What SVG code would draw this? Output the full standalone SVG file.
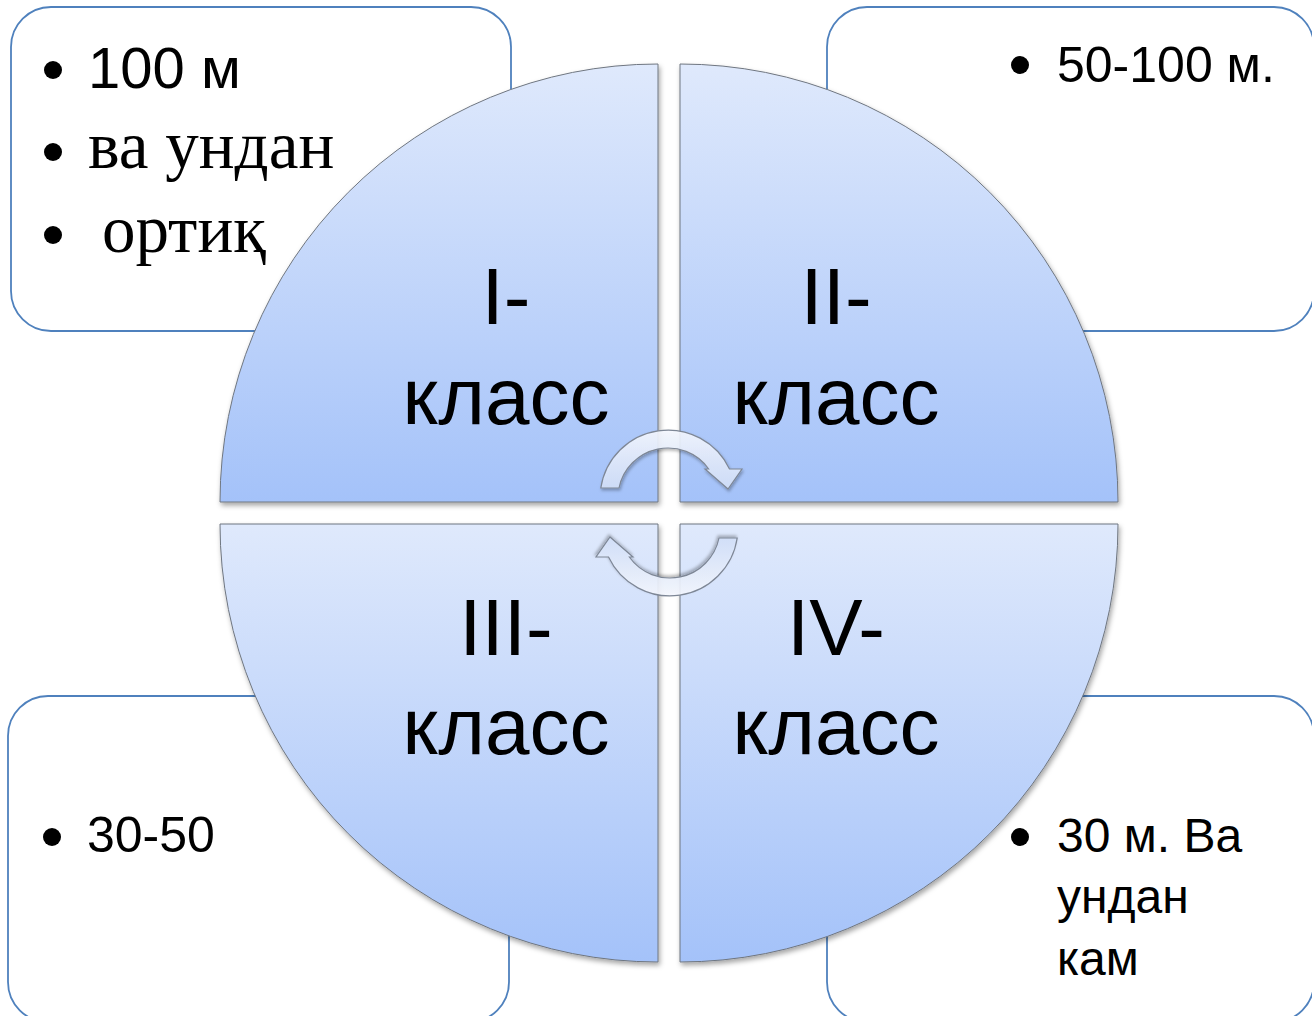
<svg xmlns="http://www.w3.org/2000/svg" width="1312" height="1016" viewBox="0 0 1312 1016">
  <defs>
    <linearGradient id="secGrad" x1="0" y1="0" x2="0" y2="1">
      <stop offset="0" stop-color="#dfe9fc"/>
      <stop offset="1" stop-color="#a4c2f9"/>
    </linearGradient>
    <linearGradient id="arrGrad" x1="0" y1="0" x2="0" y2="1">
      <stop offset="0" stop-color="#f5f8ff"/>
      <stop offset="1" stop-color="#d2e0fa"/>
    </linearGradient>
    <filter id="shadow" x="-10%" y="-10%" width="120%" height="120%">
      <feDropShadow dx="1.5" dy="3" stdDeviation="2.5" flood-color="#000" flood-opacity="0.35"/>
    </filter>
    <filter id="ashadow" x="-20%" y="-20%" width="140%" height="140%">
      <feDropShadow dx="1" dy="2" stdDeviation="1.5" flood-color="#000" flood-opacity="0.3"/>
    </filter>
  </defs>
  <style>
    .box { fill: #ffffff; stroke: #4f81bd; stroke-width: 1.8; }
    .sector { fill: url(#secGrad); stroke: #6f7680; stroke-width: 1; filter: url(#shadow); }
    .arrow { fill: url(#arrGrad); fill-opacity: 0.9; stroke: #7e8796; stroke-width: 1.2; filter: url(#ashadow); }
    .label { font-family: "Liberation Sans", Arial, sans-serif; font-size: 80px; fill: #000; text-anchor: middle; }
    .sans { font-family: "Liberation Sans", Arial, sans-serif; fill: #000; }
    .serif { font-family: "Liberation Serif", "DejaVu Serif", serif; fill: #000; }
    .bullet { fill: #000; }
  </style>
  <rect width="1312" height="1016" fill="#ffffff"/>

  <!-- text boxes -->
  <g id="box-tl">
    <rect class="box" x="11" y="7" width="500" height="324" rx="40" ry="40"/>
    <circle class="bullet" cx="53" cy="70" r="9"/>
    <text class="sans" x="88" y="88" font-size="58">100 м</text>
    <circle class="bullet" cx="53" cy="152" r="9"/>
    <text class="serif" x="88" y="168" font-size="67">ва ундан</text>
    <circle class="bullet" cx="53" cy="235" r="9"/>
    <text class="serif" x="102" y="252" font-size="67">ортиқ</text>
  </g>
  <g id="box-tr">
    <rect class="box" x="827" y="7" width="487" height="324" rx="40" ry="40"/>
    <circle class="bullet" cx="1020" cy="65" r="9"/>
    <text class="sans" x="1057" y="82" font-size="50">50-100 м.</text>
  </g>
  <g id="box-bl">
    <rect class="box" x="8" y="696" width="501" height="326" rx="40" ry="40"/>
    <circle class="bullet" cx="52" cy="837" r="9"/>
    <text class="sans" x="87" y="852" font-size="50">30-50</text>
  </g>
  <g id="box-br">
    <rect class="box" x="827" y="696" width="487" height="326" rx="40" ry="40"/>
    <circle class="bullet" cx="1020" cy="837" r="9"/>
    <text class="sans" x="1057" y="852" font-size="48">30 м. Ва</text>
    <text class="sans" x="1057" y="913" font-size="48">ундан</text>
    <text class="sans" x="1057" y="975" font-size="48">кам</text>
  </g>

  <!-- sectors -->
  <g id="sector-1">
    <path class="sector" d="M658,502 L220,502 A438,438 0 0 1 658,64 Z"/>
    <text class="label" x="506" y="324">I-</text>
    <text class="label" x="506" y="424">класс</text>
  </g>
  <g id="sector-2">
    <path class="sector" d="M680,502 L680,64 A438,438 0 0 1 1118,502 Z"/>
    <text class="label" x="836" y="324">II-</text>
    <text class="label" x="836" y="424">класс</text>
  </g>
  <g id="sector-3">
    <path class="sector" d="M658,524 L658,962 A438,438 0 0 1 220,524 Z"/>
    <text class="label" x="506" y="655">III-</text>
    <text class="label" x="506" y="754">класс</text>
  </g>
  <g id="sector-4">
    <path class="sector" d="M680,524 L1118,524 A438,438 0 0 1 680,962 Z"/>
    <text class="label" x="836" y="655">IV-</text>
    <text class="label" x="836" y="754">класс</text>
  </g>

  <!-- connectors: circular arrows -->
  <g id="connectors">
    <path class="arrow" d="M600.8,488 A68,68 0 0 1 729.5,469 L742,469 L728,489 L705,469 L708.7,469 A50,50 0 0 0 619,488 Z"/>
    <path class="arrow" transform="rotate(180 669 513)" d="M600.8,488 A68,68 0 0 1 729.5,469 L742,469 L728,489 L705,469 L708.7,469 A50,50 0 0 0 619,488 Z"/>
  </g>
</svg>
